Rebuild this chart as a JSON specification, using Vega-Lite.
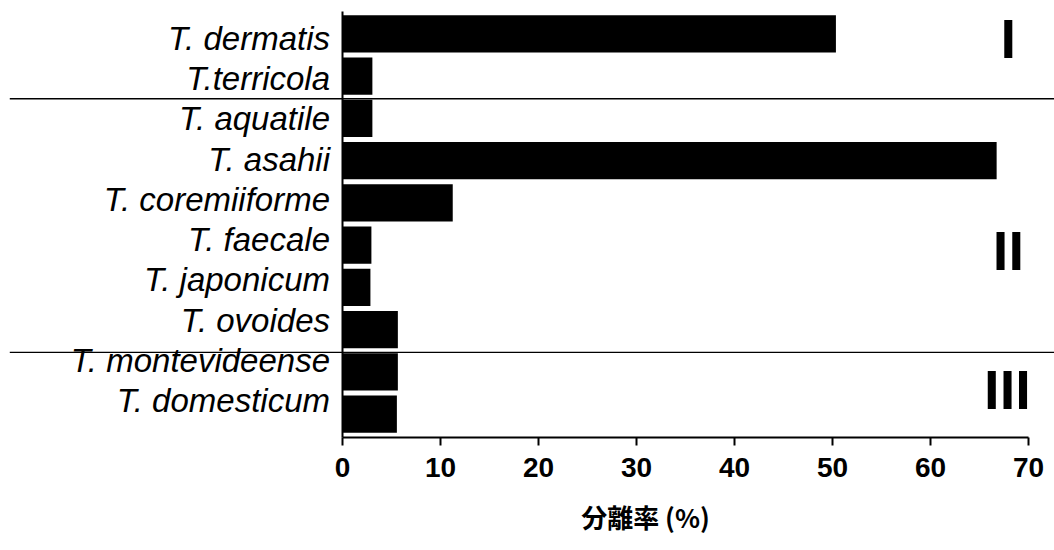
{
  "$schema": "https://vega.github.io/schema/vega-lite/v6.json",
  "autosize": {"type": "none"},
  "width": 686,
  "height": 426,
  "padding": {"left": 342, "top": 11, "right": 26, "bottom": 113},
  "background": "white",
  "config": {"view": {"stroke": null}},
  "datasets": {
    "rates": [
      {"species": "T. dermatis", "rate": 50.4},
      {"species": "T.terricola", "rate": 3.1},
      {"species": "T. aquatile", "rate": 3.1},
      {"species": "T. asahii", "rate": 66.8},
      {"species": "T. coremiiforme", "rate": 11.3},
      {"species": "T. faecale", "rate": 3.0},
      {"species": "T. japonicum", "rate": 2.9},
      {"species": "T. ovoides", "rate": 5.7},
      {"species": "T. montevideense", "rate": 5.7},
      {"species": "T. domesticum", "rate": 5.6}
    ],
    "separators": [
      {"species": "T. aquatile", "start": -33.9, "end": 72.7},
      {"species": "T. montevideense", "start": -33.9, "end": 72.7}
    ],
    "groups": [
      {"group": "I", "species": "T. dermatis", "x": 68},
      {"group": "II", "species": "T. faecale", "x": 68},
      {"group": "III", "species": "T. montevideense", "x": 67.9}
    ]
  },
  "resolve": {"scale": {"y": "independent"}, "axis": {"y": "independent"}},
  "layer": [
    {
      "layer": [
        {
          "data": {"name": "rates"},
          "mark": {"type": "bar", "color": "black"},
          "encoding": {
            "y": {
              "field": "species",
              "type": "nominal",
              "scale": {
                "domain": ["T. dermatis", "T.terricola", "T. aquatile", "T. asahii", "T. coremiiforme", "T. faecale", "T. japonicum", "T. ovoides", "T. montevideense", "T. domesticum"],
                "paddingInner": 0.12,
                "paddingOuter": 0.1
              },
              "axis": {"labels": false, "ticks": false, "title": null, "domainColor": "black", "domainWidth": 2}
            },
            "x": {
              "field": "rate",
              "type": "quantitative",
              "scale": {"domain": [0, 70], "nice": false},
              "axis": {
                "values": [0, 10, 20, 30, 40, 50, 60, 70],
                "grid": false,
                "domainColor": "black",
                "domainWidth": 2,
                "tickColor": "black",
                "tickWidth": 2,
                "tickSize": 8,
                "labelFont": "Liberation Sans",
                "labelFontWeight": "bold",
                "labelFontSize": 28,
                "labelColor": "black",
                "labelPadding": 9,
                "labelFlush": false,
                "title": "分離率 (%)",
                "titleFont": "Noto Sans CJK JP",
                "titleFontWeight": "bold",
                "titleFontSize": 26,
                "titleColor": "black",
                "titleX": 303,
                "titleY": 82,
                "titleAnchor": "middle",
                "titleBaseline": "middle",
                "titleAlign": "center"
              }
            }
          }
        },
        {
          "data": {"name": "separators"},
          "mark": {"type": "rule", "color": "black", "strokeWidth": 1.3, "clip": false},
          "encoding": {
            "y": {"field": "species", "type": "nominal", "bandPosition": 0},
            "yOffset": {"value": -1},
            "x": {"field": "start", "type": "quantitative"},
            "x2": {"field": "end"}
          }
        },
        {
          "data": {"name": "groups"},
          "transform": [{"filter": "datum.group !== 'III'"}],
          "mark": {"type": "text", "font": "Liberation Sans", "fontWeight": "bold", "fontSize": 56, "baseline": "middle", "align": "center", "color": "black"},
          "encoding": {
            "y": {"field": "species", "type": "nominal", "bandPosition": 0.7},
            "x": {"field": "x", "type": "quantitative"},
            "text": {"field": "group"}
          }
        },
        {
          "data": {"name": "groups"},
          "transform": [{"filter": "datum.group === 'III'"}],
          "mark": {"type": "text", "font": "Liberation Sans", "fontWeight": "bold", "fontSize": 56, "baseline": "middle", "align": "center", "color": "black"},
          "encoding": {
            "y": {"field": "species", "type": "nominal", "bandPosition": 1.05},
            "x": {"field": "x", "type": "quantitative"},
            "text": {"field": "group"}
          }
        }
      ]
    },
    {
      "data": {"name": "rates"},
      "mark": {"type": "text", "font": "Liberation Sans", "fontStyle": "italic", "fontSize": 33, "align": "right", "baseline": "middle", "dx": -12, "color": "black"},
      "encoding": {
        "y": {
          "field": "species",
          "type": "nominal",
          "scale": {
            "type": "point",
            "domain": ["T. dermatis", "T.terricola", "T. aquatile", "T. asahii", "T. coremiiforme", "T. faecale", "T. japonicum", "T. ovoides", "T. montevideense", "T. domesticum"],
            "padding": 0.785
          },
          "axis": null
        },
        "yOffset": {"value": -3},
        "x": {"datum": 0, "type": "quantitative"},
        "text": {"field": "species"}
      }
    }
  ]
}
